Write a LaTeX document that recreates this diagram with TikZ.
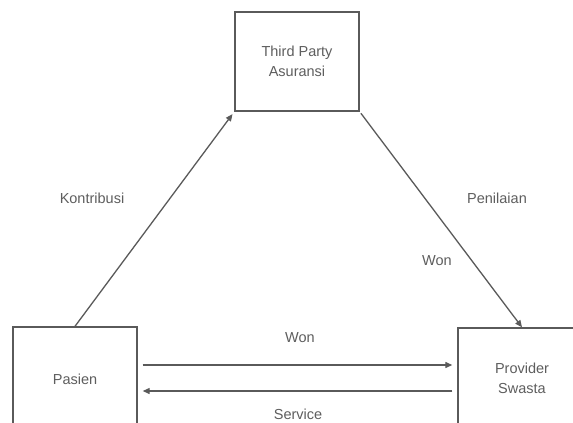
\documentclass[tikz,border=0pt]{standalone}
\usepackage{fontspec}
\setmainfont{Liberation Sans}
\usetikzlibrary{arrows.meta,calc}
\definecolor{ln}{HTML}{5a5a5a}
\definecolor{tx}{HTML}{5e5e5e}
\begin{document}
\begin{tikzpicture}[x=1pt,y=-1pt,
  box/.style={draw=ln,line width=1.4pt,fill=white,inner sep=0pt,align=center,text=tx,font=\fontsize{14.5}{20}\selectfont},
  lbl/.style={text=tx,font=\fontsize{14.5}{16}\selectfont,inner sep=0pt},
  conn/.style={draw=ln,line width=1.3pt,-{Triangle[length=7pt,width=6pt]}}]
\useasboundingbox (0,0) rectangle (573,423);
\fill[white] (0,0) rectangle (573,423);
\node[box,minimum width=124pt,minimum height=99pt] (top) at (297,61.5) {Third Party\\Asuransi};
\node[box,minimum width=124pt,minimum height=104pt] (pas) at (75,379) {Pasien};
\node[box,minimum width=128pt,minimum height=100pt] (prov) at (522,378) {Provider\\Swasta};
\draw[conn,shorten >=3pt] (pas.north) -- (top.south west);
\draw[conn,shorten <=2pt] (top.south east) -- (prov.north);
\draw[conn] ($(pas.east)+(5,-14)$) -- ($(prov.west)+(-5,-13)$);
\draw[conn] ($(prov.west)+(-5,13)$) -- ($(pas.east)+(5,12)$);
\node[lbl] (l1) at (92,198) {Kontribusi};
\node[lbl] (l2) at (497,198) {Penilaian};
\node[lbl] (l3) at (437,261) {Won};
\node[lbl] (l4) at (300,338) {Won};
\node[lbl] (l5) at (298,414) {Service};
\end{tikzpicture}
\end{document}
